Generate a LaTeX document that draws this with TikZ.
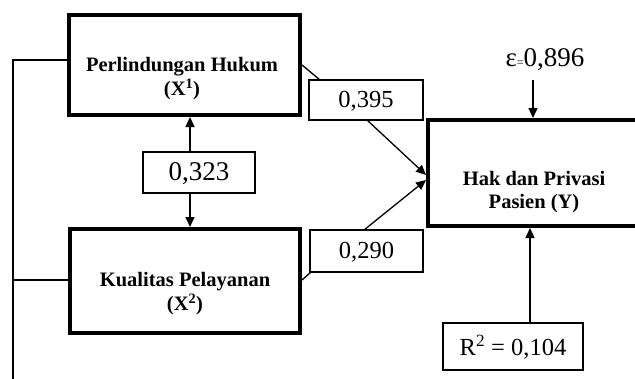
\documentclass[tikz,border=0pt]{standalone}
\usepackage{fontspec}
\setmainfont{Liberation Serif}
\usetikzlibrary{arrows.meta}
\begin{document}
\begin{tikzpicture}[x=1pt,y=-1pt,
  bigbox/.style={draw, line width=4pt, inner sep=0pt},
  numbox/.style={draw, line width=1.2pt, inner sep=0pt, outer sep=0pt, text depth=2pt},
  lbl/.style={font=\bfseries\fontsize{20.5}{24}\selectfont, align=center, inner sep=0pt},
  ln/.style={line width=1.3pt},
  arr/.style={ln, -{Triangle[length=10pt,width=9pt]}}]
\useasboundingbox (0,0) rectangle (635,378);
\clip (0,0) rectangle (635,378);
% main boxes
\node[bigbox, minimum width=231pt, minimum height=100pt] (x1) at (184.5,65) {};
\node[lbl] (x1t) at (182,79) {Perlindungan Hukum\\(X\textsuperscript{1})};
\node[bigbox, minimum width=230pt, minimum height=104pt] (x2) at (185,281) {};
\node[lbl] (x2t) at (185,294) {Kualitas Pelayanan\\(X\textsuperscript{2})};
\node[bigbox, minimum width=214pt, minimum height=106pt] (y) at (535,173) {};
\node[lbl, font=\bfseries\fontsize{20.5}{23}\selectfont] (yt) at (534,192) {Hak dan Privasi\\Pasien (Y)};
% number boxes
\node[numbox, minimum width=112pt, minimum height=41pt, font=\fontsize{27}{30}\selectfont] (c) at (199,172.5) {0,323};
\node[numbox, minimum width=114pt, minimum height=40pt, font=\fontsize{24.5}{26}\selectfont] (b1) at (366,100) {0,395};
\node[numbox, minimum width=113pt, minimum height=42pt, font=\fontsize{24.5}{26}\selectfont] (b2) at (366.5,251) {0,290};
\node[numbox, minimum width=140pt, minimum height=47pt, font=\fontsize{24.5}{26}\selectfont] (r) at (513,346.5) {R\textsuperscript{2} = 0,104};
\node[inner sep=0pt, font=\fontsize{27}{30}\selectfont] (e) at (545,60) {ε{\fontsize{12}{12}\selectfont=}0,896};
% left bracket line
\coordinate (l1) at (13,60);
\coordinate (l2) at (13,280);
\coordinate (l3) at (13,385);
\draw[ln] (x1.west |- l1) -- (l1) -- (l3);
\draw[ln] (x2.west |- l2) -- (l2);
% correlation
\draw[arr] (c.north -| 190,0) -- (x1.south -| 190,0);
\draw[arr] (c.south -| 190,0) -- (x2.north -| 190,0);
% paths
\coordinate (p1) at (320,80);
\coordinate (p2) at (367,120);
\coordinate (p3) at (364,230);
\coordinate (p4) at (311,272);
\draw[ln] (x1.east |- 0,65) -- (p1);
\draw[arr] (p2) -- (y.west |- 0,175);
\draw[arr] (p3) -- (y.west |- 0,180);
\draw[ln] (x2.east |- 0,280) -- (p4);
% error and R2
\coordinate (ea) at (533,80);
\draw[arr] (ea) -- (y.north -| ea);
\draw[arr] (r.north -| 530,0) -- (y.south -| 530,0);
\end{tikzpicture}
\end{document}
